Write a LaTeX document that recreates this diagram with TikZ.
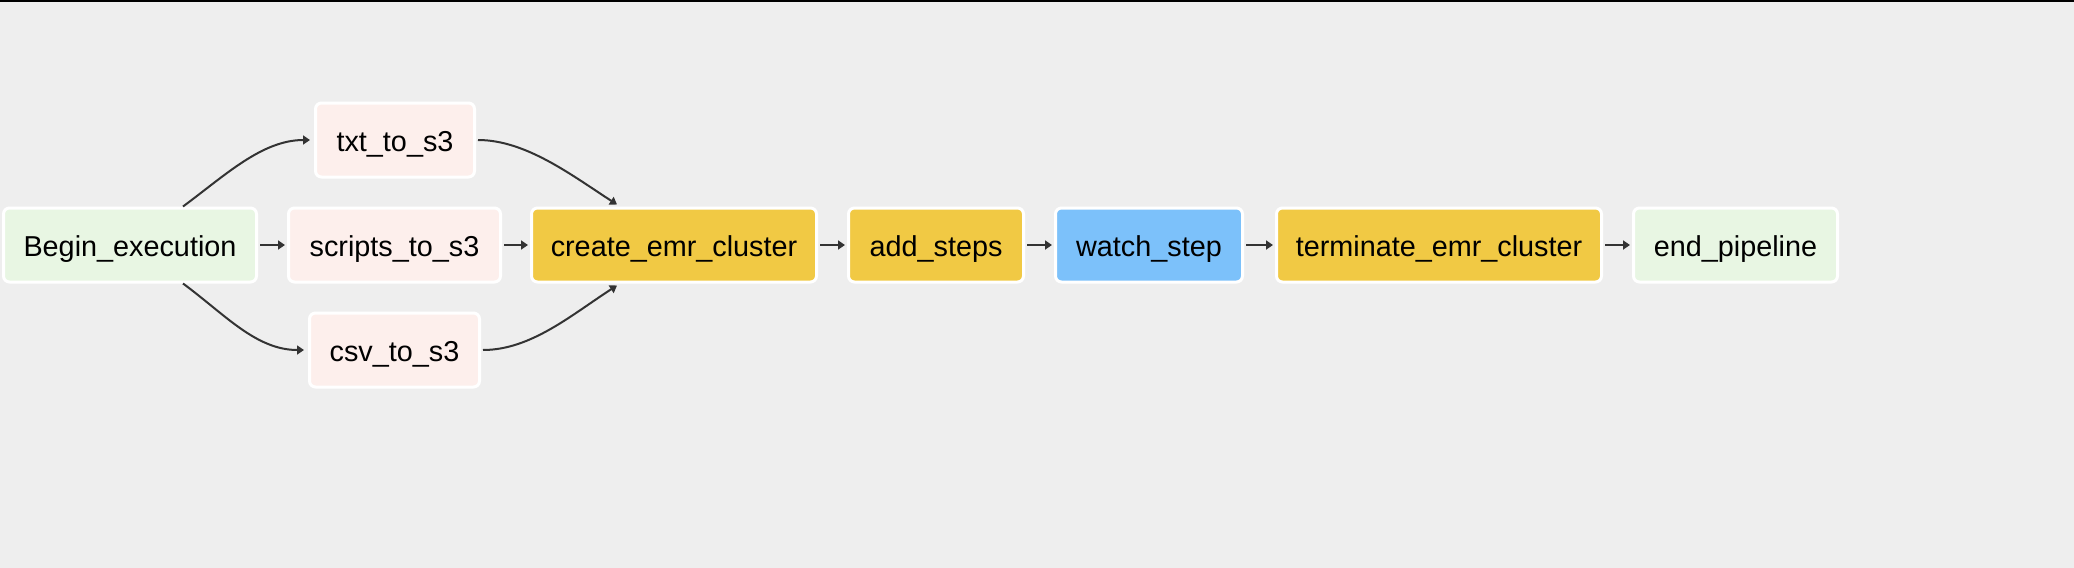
\documentclass[tikz,border=0pt]{standalone}
\usepackage{fontspec}
\setmainfont{Liberation Sans}
\usetikzlibrary{arrows.meta}
\definecolor{bgc}{HTML}{EEEEEE}
\definecolor{greenfill}{HTML}{E8F6E3}
\definecolor{pinkfill}{HTML}{FDEFEC}
\definecolor{yellowfill}{HTML}{F1C944}
\definecolor{bluefill}{HTML}{7CC1FA}
\definecolor{edgec}{HTML}{333333}
\tikzset{
  task/.style={draw=white, line width=1.5pt, rounded corners=3pt, inner sep=0pt,
    minimum height=37pt, text height=11.6pt, text depth=0pt,
    font=\fontsize{14.4}{17}\selectfont, text=black},
  conn/.style={draw=edgec, line width=1pt, -{Triangle[length=3.5pt, width=4.5pt]}},
}
\begin{document}
\begin{tikzpicture}[x=0.5pt, y=-0.5pt]
\fill[bgc] (0,0) rectangle (2074,568);
\useasboundingbox (0,0) rectangle (2074,568);
\fill[black] (0,0) rectangle (2074,1.5);

\node[task, fill=greenfill, minimum width=126.5pt] (begin) at (130,245) {Begin\_execution};
\node[task, fill=pinkfill, minimum width=79.5pt] (txt) at (395,140) {txt\_to\_s3};
\node[task, fill=pinkfill, minimum width=106pt] (scripts) at (394.5,245) {scripts\_to\_s3};
\node[task, fill=pinkfill, minimum width=85pt] (csv) at (394.5,350) {csv\_to\_s3};
\node[task, fill=yellowfill, minimum width=142.5pt] (create) at (674,245) {create\_emr\_cluster};
\node[task, fill=yellowfill, minimum width=87.5pt] (add) at (936,245) {add\_steps};
\node[task, fill=bluefill, minimum width=93.5pt] (watch) at (1149,245) {watch\_step};
\node[task, fill=yellowfill, minimum width=162.5pt] (term) at (1439,245) {terminate\_emr\_cluster};
\node[task, fill=greenfill, minimum width=102pt] (endp) at (1735.5,245) {end\_pipeline};

\draw[conn] ([xshift=26.5pt]begin.north) .. controls +(42,-31) and +(-48,0) .. ([xshift=-2pt]txt.west);
\draw[conn] ([xshift=26.5pt]begin.south) .. controls +(42,31) and +(-48,0) .. ([xshift=-2pt]csv.west);
\draw[conn, shorten <=1pt, shorten >=1pt] (begin.east) -- (scripts.west);
\draw[conn, shorten <=1pt, shorten >=1pt] (scripts.east) -- (create.west);
\draw[conn] ([xshift=1pt]txt.east) .. controls +(48,0) and +(-45,-29) .. ([xshift=-28.5pt,yshift=1pt]create.north);
\draw[conn] ([xshift=1pt]csv.east) .. controls +(48,0) and +(-45,29) .. ([xshift=-28.5pt,yshift=-1pt]create.south);
\draw[conn, shorten <=1pt, shorten >=1pt] (create.east) -- (add.west);
\draw[conn, shorten <=1pt, shorten >=1pt] (add.east) -- (watch.west);
\draw[conn, shorten <=1pt, shorten >=1pt] (watch.east) -- (term.west);
\draw[conn, shorten <=1pt, shorten >=1pt] (term.east) -- (endp.west);
\end{tikzpicture}
\end{document}
